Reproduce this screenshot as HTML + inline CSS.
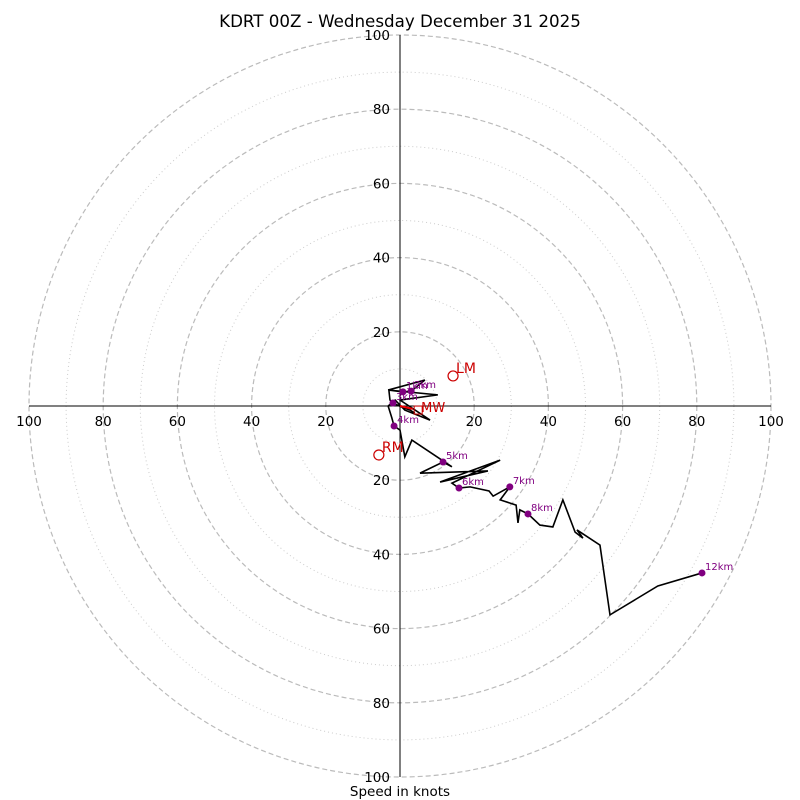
<!DOCTYPE html>
<html><head><meta charset="utf-8"><style>
body{margin:0;background:#fff;}
svg{display:block;font-family:"DejaVu Sans","Liberation Sans",sans-serif;}
</style></head><body>
<svg id="chart" width="800" height="800" viewBox="0 0 800 800" xmlns="http://www.w3.org/2000/svg">
<text x="400" y="27" text-anchor="middle" font-size="16.7">KDRT 00Z - Wednesday December 31 2025</text>
<text x="400" y="796" text-anchor="middle" font-size="13.5">Speed in knots</text>
<g id="rings"></g><g id="axes"></g><g id="trace"></g><g id="marks"></g>
</svg>
<script>
const ringValues=[10,20,30,40,50,60,70,80,90,100];
const tickValues=[20,40,60,80,100];
const windU=[4.0,2.7,0.5,-0.8,-1.9,-2.7,-3.0,0.8,3.0,6.7,-3.2,10.2,0,8.1,1.3,-1.3,-3.2,-2.2,-1.6,0,1.3,3.2,14.0,11.6,5.4,23.7,10.8,27.0,14.0,15.9,18.9,24.0,25.1,29.6,27.0,31.3,31.8,32.3,34.5,37.7,41.2,43.9,47.2,49.3,47.7,53.9,56.6,69.5,81.4];
const windV=[-1.9,-1.1,-0.3,0.3,0.8,1.6,4.3,3.8,4.0,7.0,4.3,3.0,1.6,-3.8,-1.1,1.6,0,-3.2,-5.4,-6.5,-13.7,-9.2,-16.4,-15.1,-18.1,-17.5,-20.5,-14.6,-20.8,-22.1,-21.8,-22.9,-24.3,-21.8,-25.3,-26.7,-31.5,-28.0,-29.1,-32.1,-32.6,-25.3,-34.0,-35.6,-33.4,-37.5,-56.3,-48.5,-45.0];
const markerLabels=["1km","2km","3km","4km","5km","6km","7km","8km","12km"];
const markerU=[0.8,3.0,-1.9,-1.6,11.6,15.9,29.6,34.5,81.4];
const markerV=[3.8,4.0,0.8,-5.4,-15.1,-22.1,-21.8,-29.1,-45.0];
const stormLabels=["LM","RM"];
const stormU=[14.3,-5.7];
const stormV=[8.1,-13.2];
const meanWindU=4.9, meanWindV=-1.1;

const CX=400,CY=406,S=3.71;
const sx=u=>CX+u*S, sy=v=>CY-v*S;
const NS="http://www.w3.org/2000/svg";
function mk(tag,parent,attrs){const e=document.createElementNS(NS,tag);for(const k in attrs)e.setAttribute(k,attrs[k]);parent.appendChild(e);return e;}
const rings=document.getElementById('rings'),axes=document.getElementById('axes'),trace=document.getElementById('trace'),marks=document.getElementById('marks');
ringValues.forEach(r=>{
  const major=r%20===0;
  const c=mk('circle',rings,{cx:CX,cy:CY,r:r*S,fill:'none',stroke:major?'#bbb':'#ccc','stroke-width':major?1.2:1,'stroke-dasharray':major?'5,3':'1,3'});
  
  
});
const xa=mk('line',axes,{x1:sx(-100),y1:CY,x2:sx(100),y2:CY,stroke:'#000','stroke-width':1});


const ya=mk('line',axes,{x1:CX,y1:sy(100),x2:CX,y2:sy(-100),stroke:'#000','stroke-width':1});


tickValues.forEach(t=>{
  [-1,1].forEach(sg=>{
    const tx=mk('text',axes,{x:sx(sg*t),y:CY+20,'text-anchor':'middle','font-size':13.5});
    tx.textContent=t;
    
    
    const ty=mk('text',axes,{x:CX-10,y:sy(sg*t)+5,'text-anchor':'end','font-size':13.5});
    ty.textContent=t;
    
    
  });
});
const pts=windU.map((u,i)=>sx(u)+','+sy(windV[i])).join(' ');
const pl=mk('polyline',trace,{points:pts,fill:'none',stroke:'#000','stroke-width':1.6,'stroke-linejoin':'miter'});


const ar=mk('line',marks,{x1:CX,y1:CY,x2:sx(meanWindU*0.7),y2:sy(meanWindV*0.7),stroke:'#e00','stroke-width':2});


const sq=mk('rect',marks,{x:sx(meanWindU)-4,y:sy(meanWindV)-4,width:8,height:8,fill:'none',stroke:'#c00','stroke-width':1});


const mwl=mk('text',marks,{x:sx(meanWindU)+3,y:sy(meanWindV)+2,fill:'#c00','font-size':13});
mwl.textContent='MW';


markerLabels.forEach((l,i)=>{
  const d=mk('circle',marks,{cx:sx(markerU[i]),cy:sy(markerV[i]),r:3.5,fill:'#800080'});
  
  
  const t=mk('text',marks,{x:sx(markerU[i])+3,y:sy(markerV[i])-3,fill:'#800080','font-size':10});
  t.textContent=l;
  
  
});
stormLabels.forEach((l,i)=>{
  const c=mk('circle',marks,{cx:sx(stormU[i]),cy:sy(stormV[i]),r:5,fill:'none',stroke:'#c00','stroke-width':1.2});
  
  
  const t=mk('text',marks,{x:sx(stormU[i])+3,y:sy(stormV[i])-3,fill:'#c00','font-size':14});
  t.textContent=l;
  
  
});
</script>
</body></html>
